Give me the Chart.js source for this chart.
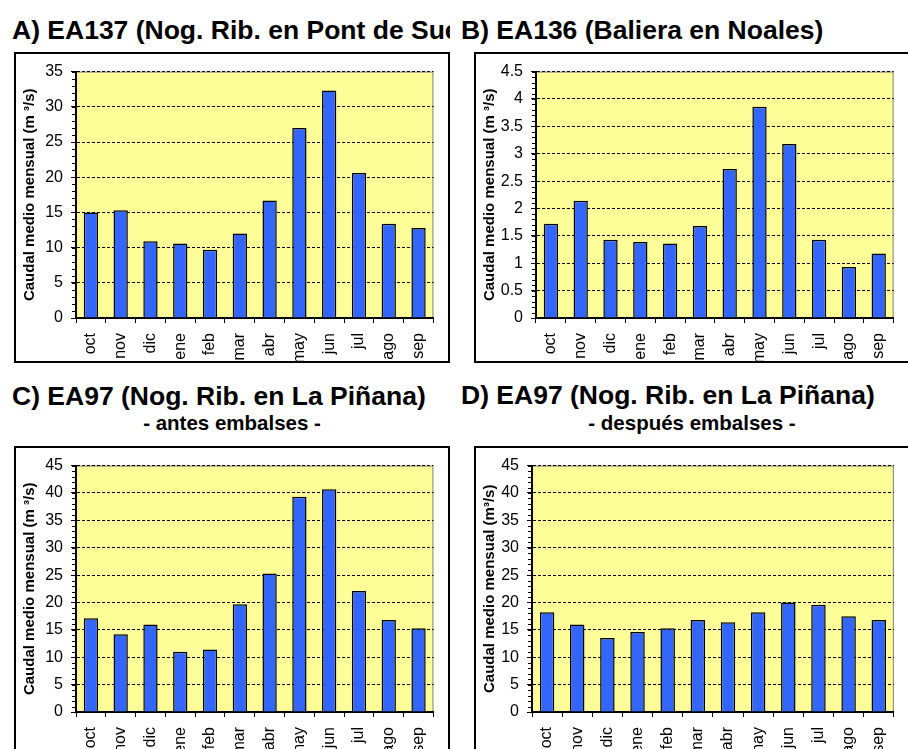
<!DOCTYPE html>
<html>
<head>
<meta charset="utf-8">
<script src="https://cdn.jsdelivr.net/npm/chart.js@4"></script>
<style>
  body{margin:0;width:908px;height:749px;overflow:hidden;background:#fff;position:relative;font-family:'Liberation Sans',Arial,sans-serif;}
  .title{position:absolute;font-weight:bold;font-size:26.5px;line-height:30px;white-space:nowrap;color:#000;}
  .sub{position:absolute;font-weight:bold;font-size:20.5px;line-height:24px;white-space:nowrap;text-align:center;color:#000;}
  .box{position:absolute;border:2px solid #000;background:#fff;width:432px;height:307px;}
  .box canvas{display:block;}
</style>
</head>
<body>
<div class="title" style="left:12px;top:15px;">A) EA137 (Nog. Rib. en Pont de Suert)</div>
<div class="title" style="left:450px;top:15px;background:#fff;padding-left:11px;">B) EA136 (Baliera en Noales)</div>
<div class="title" style="left:12px;top:381px;">C) EA97 (Nog. Rib. en La Piñana)</div>
<div class="sub" style="left:14px;width:436px;top:411px;">- antes embalses -</div>
<div class="title" style="left:461px;top:380px;">D) EA97 (Nog. Rib. en La Piñana)</div>
<div class="sub" style="left:474px;width:436px;top:411px;">- después embalses -</div>

<div class="box" style="left:14px;top:52px;"><canvas id="cA" width="432" height="307"></canvas></div>
<div class="box" style="left:474px;top:52px;"><canvas id="cB" width="432" height="307"></canvas></div>
<div class="box" style="left:14px;top:446px;"><canvas id="cC" width="432" height="307"></canvas></div>
<div class="box" style="left:474px;top:446px;"><canvas id="cD" width="432" height="307"></canvas></div>

<script>
// meses del año hidrológico
const months = ['oct','nov','dic','ene','feb','mar','abr','may','jun','jul','ago','sep'];

// caudal medio mensual (m3/s)
const ea137 = [15.0, 15.3, 10.9, 10.6, 9.7, 12.0, 16.7, 27.0, 32.3, 20.6, 13.4, 12.8];
const ea136 = [1.72, 2.14, 1.43, 1.39, 1.36, 1.68, 2.72, 3.86, 3.18, 1.43, 0.93, 1.18];
const ea97Antes = [17.1, 14.2, 16.0, 11.0, 11.4, 19.7, 25.3, 39.3, 40.7, 22.1, 16.8, 15.3];
const ea97Despues = [18.2, 16.0, 13.5, 14.6, 15.3, 16.8, 16.4, 18.2, 20.0, 19.6, 17.5, 16.8];

Chart.defaults.font.family = "'Liberation Sans', Arial, sans-serif";
Chart.defaults.color = '#000';

// fondo amarillo del área de trazado + marcas menores del eje Y
const plotBg = {
  id: 'plotBg',
  beforeDraw(chart){
    const {ctx, chartArea:a} = chart;
    ctx.save();
    ctx.fillStyle = '#FFFF99';
    ctx.fillRect(a.left, a.top, a.right-a.left, a.bottom-a.top);
    ctx.strokeStyle = '#808080'; ctx.lineWidth = 1;
    ctx.strokeRect(a.left+0.5, a.top+0.5, a.right-a.left-1, a.bottom-a.top-1);
    ctx.restore();
  },
  afterDraw(chart, args, opts){
    const y = chart.scales.y, ctx = chart.ctx;
    ctx.save();
    ctx.strokeStyle = '#000'; ctx.lineWidth = 1;
    ctx.beginPath();
    for(let v = 0; v <= y.max + 1e-9; v += opts.minor){
      const py = Math.round(y.getPixelForValue(v)) + 0.5;
      ctx.moveTo(y.right - 4, py); ctx.lineTo(y.right, py);
    }
    ctx.stroke();
    ctx.restore();
  }
};

function makeChart(id, values, max, step, minor, yTitle, yWidth, padRight){
  return new Chart(document.getElementById(id), {
    type: 'bar',
    data: {labels: months, datasets: [{
      data: values, backgroundColor: '#3366FF', borderColor: '#000', borderWidth: 1.5,
      barPercentage: 0.48, categoryPercentage: 1
    }]},
    options: {
      responsive: false, animation: false,
      layout: {padding: {top: 13, right: padRight, left: 0, bottom: 0}},
      plugins: {legend: {display: false}, tooltip: {enabled: false}, plotBg: {minor: minor}},
      scales: {
        x: {
          grid: {display: true, drawOnChartArea: false, offset: true, color: '#000', tickLength: 5},
          border: {color: '#000', width: 2},
          ticks: {minRotation: 90, maxRotation: 90, autoSkip: false, padding: 10, font: {size: 16}},
          afterFit(s){ s.height = 43; }
        },
        y: {
          min: 0, max: max,
          grid: {color: '#000', tickLength: 5, tickColor: '#000'},
          border: {color: '#000', width: 2, dash: [3, 2]},
          ticks: {stepSize: step, padding: 8, font: {size: 16}, callback: v => String(+v.toFixed(1))},
          title: {display: true, text: yTitle, font: {size: 15, weight: 'bold'}, padding: {top: 5, bottom: 0}},
          afterFit(s){ s.width = yWidth; }
        }
      }
    },
    plugins: [plotBg]
  });
}

makeChart('cA', ea137, 35, 5, 1, 'Caudal medio mensual (m ³/s)', 60, 6);
makeChart('cB', ea136, 4.5, 0.5, 0.1, 'Caudal medio mensual (m ³/s)', 60, 2);
makeChart('cC', ea97Antes, 45, 5, 1, 'Caudal medio mensual (m ³/s)', 60, 6);
makeChart('cD', ea97Despues, 45, 5, 1, 'Caudal medio mensual (m³/s)', 56, 1);
</script>
</body>
</html>
